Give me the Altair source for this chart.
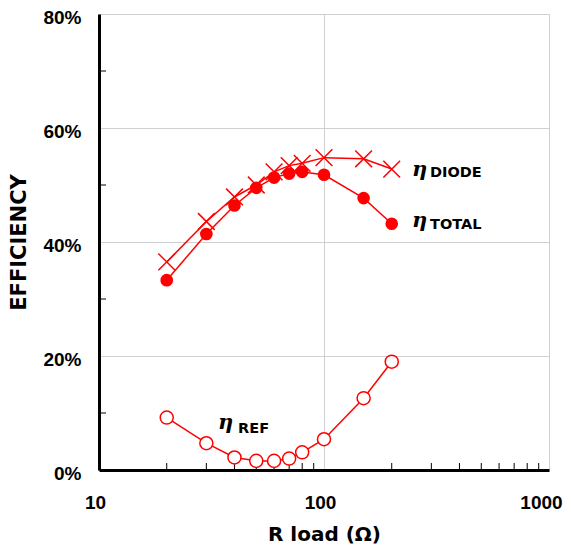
import altair as alt
import pandas as pd

# ---- data ----
r_load = [20, 30, 40, 50, 60, 70, 80, 100, 150, 200]
eta_total = [33.3, 41.4, 46.4, 49.5, 51.3, 52.0, 52.3, 51.8, 47.7, 43.2]
eta_diode = [36.5, 43.6, 47.9, 50.0, 52.3, 53.4, 53.8, 54.8, 54.6, 52.8]
eta_ref = [9.2, 4.7, 2.2, 1.6, 1.6, 2.0, 3.1, 5.4, 12.6, 19.0]

x_ticks = [10, 100, 1000]
y_ticks = [0, 20, 40, 60, 80]
x_minor = [20, 30, 40, 50, 60, 70, 80, 90, 200, 300, 400, 500, 600, 700, 800, 900]
y_minor = [10, 30, 50, 70]

label_names = ["DIODE", "TOTAL", "REF"]
eta_x = [246, 246, 33.8]
eta_y = [52.6, 43.7, 8.2]
label_x = [296, 296, 41.5]
label_y = [52.1, 43.0, 7.2]

RED = "#ff0000"
W, H = 450, 456

rows = []
for name, vals in [("TOTAL", eta_total), ("DIODE", eta_diode), ("REF", eta_ref)]:
    for r, v in zip(r_load, vals):
        rows.append({"r": r, "eff": v, "series": name})
df = pd.DataFrame(rows)

ann = pd.DataFrame({"name": label_names, "ex": eta_x, "ey": eta_y, "lx": label_x, "ly": label_y})
xm = pd.DataFrame({"v": x_minor})
ym = pd.DataFrame({"v": y_minor})

xscale = alt.Scale(type="log", domain=[10, 1000], nice=False)
yscale = alt.Scale(domain=[0, 80], nice=False)

xaxis = alt.Axis(values=x_ticks, format="d", ticks=False, grid=True, gridColor="#d0d0d0",
                 gridWidth=1, domainColor="black", domainWidth=3, labelFont="Liberation Sans",
                 labelFontWeight="bold", labelFontSize=19, labelColor="black", labelPadding=23,
                 labelOffset={"condition": {"test": "datum.value == 1000", "value": -8}, "value": -4},
                 labelFlush=False,
                 title="R load (Ω)", titleFont="DejaVu Sans", titleFontWeight="bold",
                 titleFontSize=20, titleColor="black", titlePadding=12)
yaxis = alt.Axis(values=y_ticks, labelExpr="datum.value + '%'", ticks=False, grid=True,
                 gridColor="#d0d0d0", gridWidth=1, domainColor="black", domainWidth=3,
                 labelFont="Liberation Sans", labelFontWeight="bold", labelFontSize=19,
                 labelColor="black", labelPadding=18, labelOffset=3, title="EFFICIENCY",
                 titleFont="DejaVu Sans", titleFontWeight="bold", titleFontSize=21,
                 titleColor="black", titlePadding=13)

base = alt.Chart(df)

lines = base.mark_line(color=RED, strokeWidth=1.5).encode(
    x=alt.X("r:Q", scale=xscale, axis=xaxis),
    y=alt.Y("eff:Q", scale=yscale, axis=yaxis),
    detail="series:N",
)

total_pts = base.transform_filter(alt.datum.series == "TOTAL").mark_point(
    shape="circle", filled=True, color=RED, size=160, opacity=1).encode(
    x=alt.X("r:Q", scale=xscale), y=alt.Y("eff:Q", scale=yscale))

diode_pts = base.transform_filter(alt.datum.series == "DIODE").mark_point(
    shape="M-1,-1L1,1M-1,1L1,-1", filled=False, color=RED, size=280, strokeWidth=1.5, opacity=1).encode(
    x=alt.X("r:Q", scale=xscale), y=alt.Y("eff:Q", scale=yscale))

ref_pts = base.transform_filter(alt.datum.series == "REF").mark_point(
    shape="circle", filled=False, fill="white", fillOpacity=1, stroke=RED, strokeWidth=1.5,
    size=170, opacity=1).encode(
    x=alt.X("r:Q", scale=xscale), y=alt.Y("eff:Q", scale=yscale))

eta_text = alt.Chart(ann).mark_text(text="η", font="DejaVu Serif", fontStyle="italic",
                                    fontWeight="bold", fontSize=21, align="left",
                                    baseline="middle", color="black").encode(
    x=alt.X("ex:Q", scale=xscale), y=alt.Y("ey:Q", scale=yscale))

lab_text = alt.Chart(ann).mark_text(font="DejaVu Sans", fontWeight="bold", fontSize=14.5,
                                    align="left", baseline="middle", color="black").encode(
    x=alt.X("lx:Q", scale=xscale), y=alt.Y("ly:Q", scale=yscale), text="name:N")

xminor_rules = alt.Chart(xm).mark_rule(color="black", strokeWidth=1).encode(
    x=alt.X("v:Q", scale=xscale), y=alt.value(H), y2=alt.value(H - 7))
yminor_rules = alt.Chart(ym).mark_rule(color="black", strokeWidth=1).encode(
    y=alt.Y("v:Q", scale=yscale), x=alt.value(0), x2=alt.value(7))

chart = alt.layer(xminor_rules, yminor_rules, lines, diode_pts, total_pts, ref_pts,
                  eta_text, lab_text).properties(
    width=W, height=H,
    autosize=alt.AutoSizeParams(type="none"),
    padding={"left": 91, "top": 6, "right": 14, "bottom": 74},
).configure_view(stroke="black", strokeWidth=3).configure(background="white")

chart.save("out.html", embed_options={"renderer": "svg", "actions": False})
